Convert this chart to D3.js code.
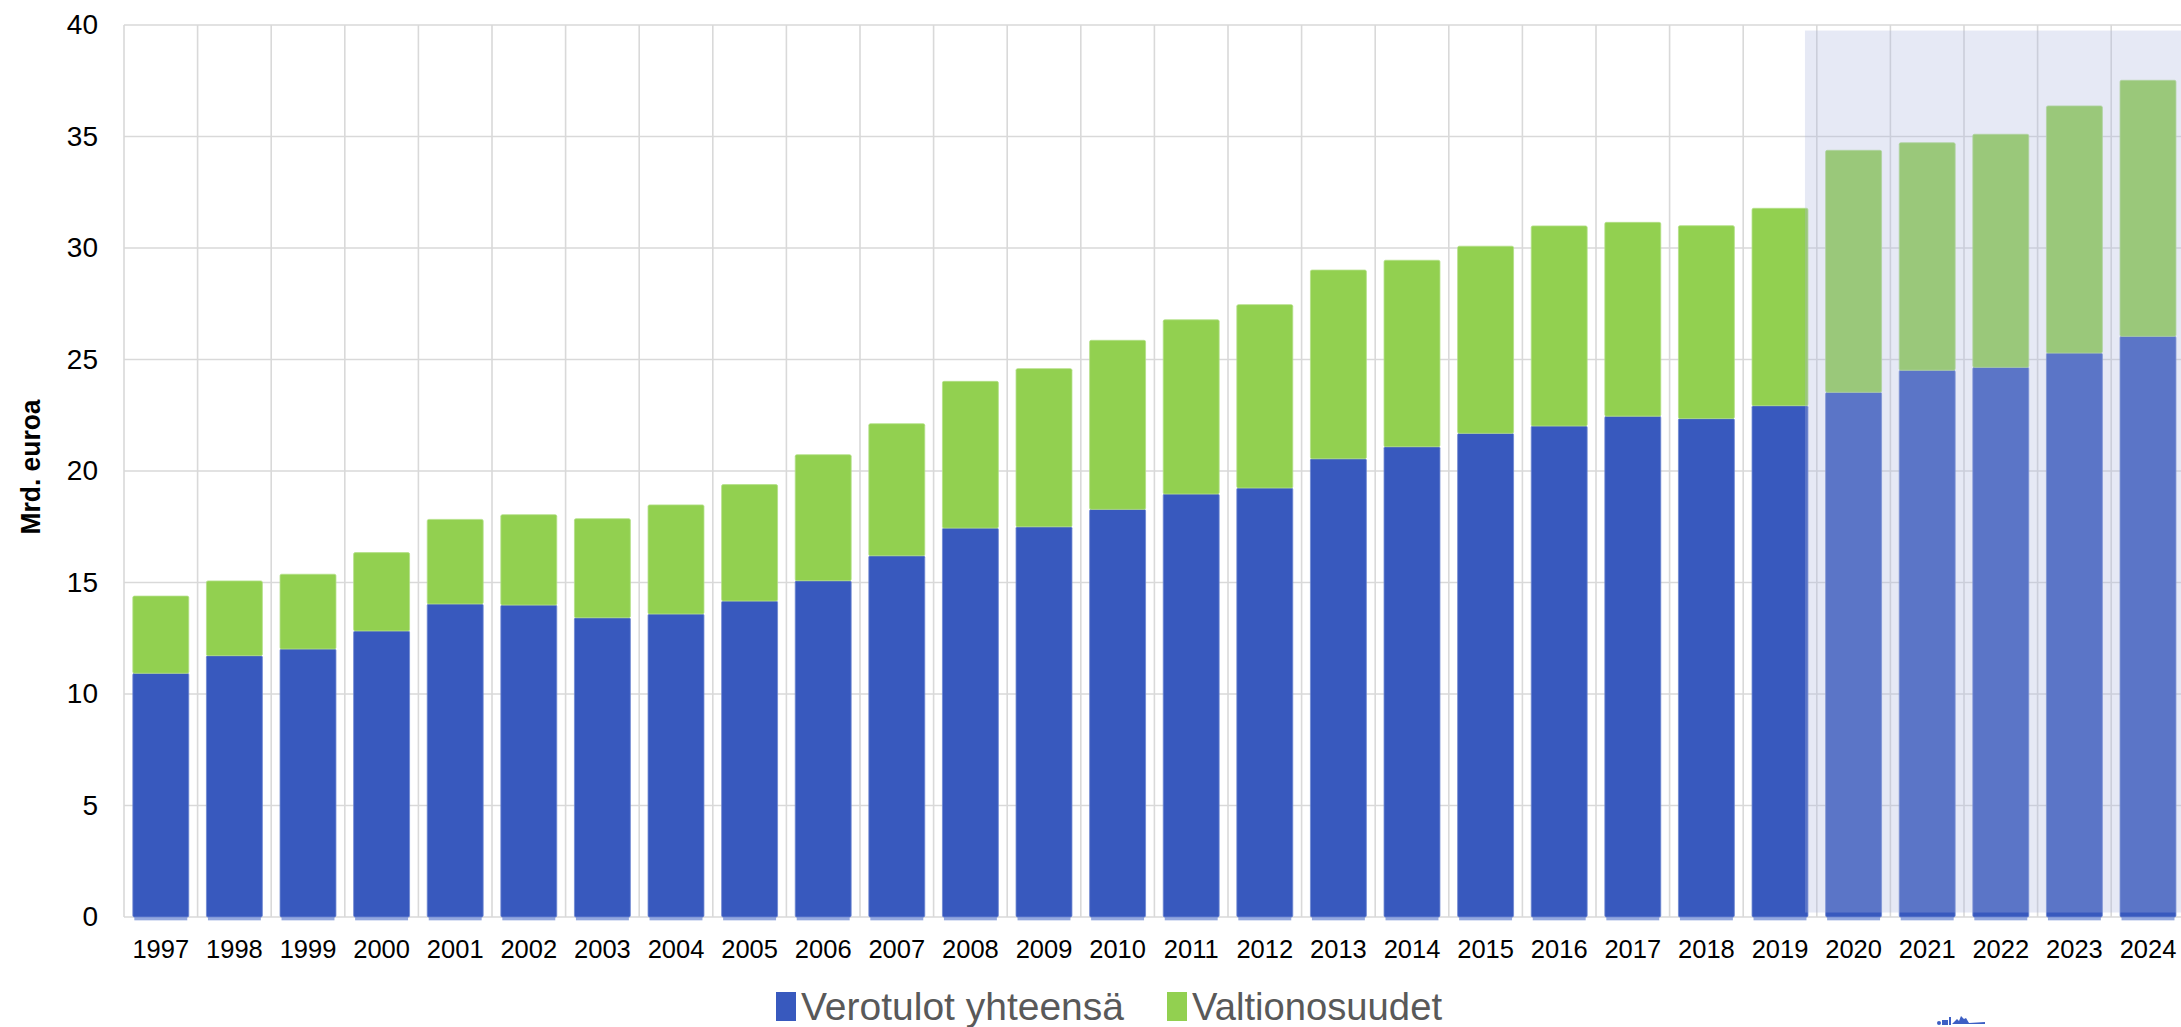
<!DOCTYPE html>
<html>
<head>
<meta charset="utf-8">
<script src="https://cdn.jsdelivr.net/npm/d3@7"></script>
<style>
  html, body { margin: 0; padding: 0; background: #fff; }
  svg { display: block; }
  text { font-family: "Liberation Sans", Arial, sans-serif; }
</style>
</head>
<body>
<svg id="chart" width="2181" height="1027"></svg>
<script>
const years = ['1997','1998','1999','2000','2001','2002','2003','2004','2005','2006','2007','2008','2009','2010','2011','2012','2013','2014','2015','2016','2017','2018','2019','2020','2021','2022','2023','2024'];
const verotulot = [10.93, 11.72, 12.02, 12.83, 14.04, 13.99, 13.42, 13.59, 14.17, 15.08, 16.20, 17.44, 17.50, 18.28, 18.97, 19.24, 20.55, 21.09, 21.69, 22.02, 22.46, 22.35, 22.93, 23.53, 24.52, 24.65, 25.29, 26.04];
const valtionosuudet = [3.46, 3.35, 3.35, 3.51, 3.79, 4.05, 4.44, 4.89, 5.22, 5.65, 5.92, 6.58, 7.09, 7.58, 7.81, 8.22, 8.46, 8.36, 8.39, 8.97, 8.69, 8.65, 8.85, 10.85, 10.20, 10.45, 11.08, 11.48];
const muut = [-0.15, -0.15, -0.15, -0.15, -0.15, -0.15, -0.15, -0.15, -0.15, -0.15, -0.15, -0.15, -0.15, -0.15, -0.15, -0.15, -0.15, -0.15, -0.15, -0.15, -0.15, -0.15, -0.15, -0.15, -0.15, -0.15, -0.15, -0.15];
const forecastYears = ['2020','2021','2022','2023','2024'];
const yTicks = [0, 5, 10, 15, 20, 25, 30, 35, 40];
const seriesNames = ['Verotulot yhteensä', 'Valtionosuudet'];
const yTitle = 'Mrd. euroa';

const svg = d3.select('#chart');
const plotLeft = 124, plotTop = 25, plotBottom = 917;
const band = 73.6;
const x = d3.scaleBand().domain(years).range([plotLeft, plotLeft + band * years.length]).paddingInner(0.24).paddingOuter(0.12);
const y = d3.scaleLinear().domain([0, 40]).range([plotBottom, plotTop]);
const grid = '#d9d9d9';

// horizontal gridlines
svg.append('g').selectAll('line').data(yTicks).join('line')
  .attr('x1', plotLeft).attr('x2', 2181)
  .attr('y1', d => y(d)).attr('y2', d => y(d))
  .attr('stroke', grid).attr('stroke-width', 1.6);

// vertical gridlines at band boundaries
const step = x.step();
const bounds = years.map((d, i) => x.range()[0] + i * step);
svg.append('g').selectAll('line').data(bounds).join('line')
  .attr('x1', d => d).attr('x2', d => d)
  .attr('y1', y(40)).attr('y2', y(0))
  .attr('stroke', grid).attr('stroke-width', 1.6);

// stacked bars
const table = years.map((yr, i) => ({ year: yr, v: verotulot[i], g: valtionosuudet[i] }));
const stack = d3.stack().keys(['v', 'g'])(table);
const colors = { v: '#3859be', g: '#92d050' };

svg.append('g').selectAll('rect').data(years).join('rect')
  .attr('x', d => x(d) + 1.5)
  .attr('width', x.bandwidth() - 3)
  .attr('y', y(0))
  .attr('height', (d, i) => y(muut[i]) - y(0))
  .attr('fill', '#94a8de');

stack.forEach(layer => {
  svg.append('g').selectAll('rect').data(layer).join('rect')
    .attr('x', d => x(d.data.year))
    .attr('width', x.bandwidth())
    .attr('y', d => y(d[1]))
    .attr('height', d => y(d[0]) - y(d[1]))
    .attr('rx', 1.5)
    .attr('fill', colors[layer.key])
    .attr('stroke', layer.key === 'v' ? '#6d86d0' : '#b2df86')
    .attr('stroke-width', 0.8);
});

// forecast shading overlay
const fx0 = x('2019') + x.bandwidth() - 3;
svg.append('rect')
  .attr('x', fx0)
  .attr('y', y(39.75))
  .attr('width', 2181 - fx0)
  .attr('height', y(0.2) - y(39.75))
  .attr('fill', 'rgb(172,182,222)')
  .attr('fill-opacity', 0.3);

// y axis labels
const yAxis = d3.axisLeft(y).tickValues(yTicks).tickSize(0).tickPadding(26);
const gy = svg.append('g').attr('transform', `translate(${plotLeft},0)`).call(yAxis);
gy.select('.domain').remove();
gy.selectAll('text').attr('font-size', 28).attr('fill', '#000')
  .style('font-family', '"Liberation Sans", Arial, sans-serif');

// x axis labels
const xAxis = d3.axisBottom(x).tickSize(0);
const gx = svg.append('g').attr('transform', `translate(0,${plotBottom})`).call(xAxis);
gx.select('.domain').remove();
gx.selectAll('text').attr('y', 41).attr('dy', 0).attr('font-size', 25.5).attr('fill', '#000')
  .style('font-family', '"Liberation Sans", Arial, sans-serif');

// y title
svg.append('text')
  .attr('transform', 'translate(40,467) rotate(-90)')
  .attr('text-anchor', 'middle')
  .attr('font-size', 28).attr('font-weight', 'bold').attr('fill', '#000')
  .attr('textLength', 135).attr('lengthAdjust', 'spacingAndGlyphs')
  .text(yTitle);

// legend
const legendItems = [
  { name: seriesNames[0], color: colors.v, rx: 776, tx: 801, tl: 323 },
  { name: seriesNames[1], color: colors.g, rx: 1167, tx: 1192, tl: 250 }
];
const lg = svg.append('g');
legendItems.forEach(it => {
  lg.append('rect').attr('x', it.rx).attr('y', 992).attr('width', 20).attr('height', 29).attr('fill', it.color);
  lg.append('text').attr('x', it.tx).attr('y', 1020)
    .attr('font-size', 39).attr('fill', '#595959')
    .attr('textLength', it.tl).attr('lengthAdjust', 'spacingAndGlyphs')
    .text(it.name);
});

// small clipped logo fragment at the bottom
const logo = svg.append('g').attr('fill', '#3d5fc4');
logo.append('rect').attr('x', 1937).attr('y', 1021).attr('width', 4).attr('height', 4).attr('rx', 2);
logo.append('rect').attr('x', 1942).attr('y', 1020).attr('width', 6).attr('height', 5);
logo.append('rect').attr('x', 1949).attr('y', 1017).attr('width', 2).attr('height', 8);
logo.append('path').attr('d', 'M1952,1024 L1957,1019 L1959,1021 L1961,1016 L1964,1019 L1966,1018 L1969,1023 L1985,1022 L1985,1024 Z');
</script>
</body>
</html>
